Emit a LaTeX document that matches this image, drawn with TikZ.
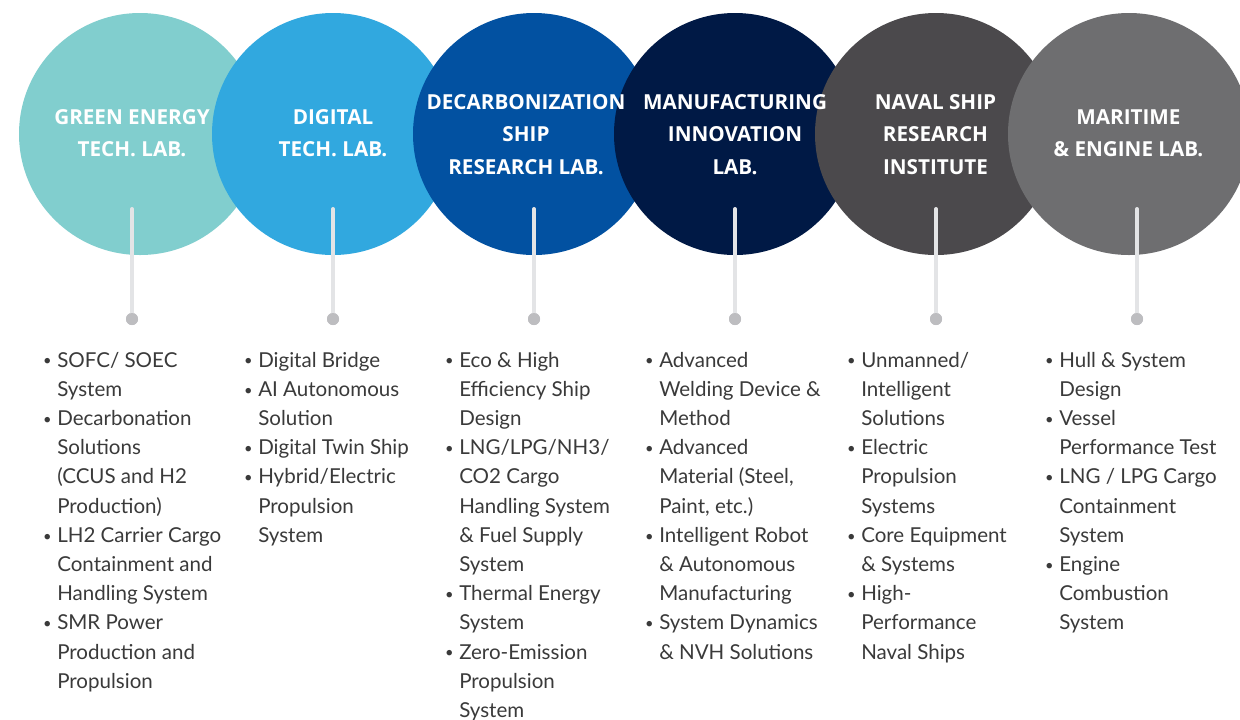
\documentclass[tikz,border=0pt]{standalone}
\usepackage{fontspec}
\setmainfont{Lato}
\newfontfamily\headfont{Open Sans}
\definecolor{cA}{HTML}{81CECE}
\definecolor{cB}{HTML}{31A8DF}
\definecolor{cC}{HTML}{0251A1}
\definecolor{cD}{HTML}{001945}
\definecolor{cE}{HTML}{4B494C}
\definecolor{cF}{HTML}{6E6E70}
\definecolor{stemc}{HTML}{E3E4E6}
\definecolor{dotc}{HTML}{BDBDC0}
\definecolor{bodyc}{HTML}{3A3A3A}
\newcommand{\bl}{\makebox[11.25pt][l]{\hspace{0.6pt}\raisebox{0.8pt}{\fontsize{11pt}{11pt}\selectfont •}}&}
\newcommand{\cl}{&}
\begin{document}
\begin{tikzpicture}[x=0.75pt,y=-0.75pt,
  lab/.style={circle,inner sep=0pt,minimum size=181.5pt,draw=none},
  head/.style={text=white,align=center,inner sep=0pt,font=\headfont\bfseries\fontsize{15.5pt}{24.4pt}\selectfont},
  stem/.style={draw=stemc,line width=3pt,line cap=round},
  dotn/.style={circle,fill=dotc,inner sep=0pt,minimum size=9pt},
  col/.style={anchor=base west,inner sep=0pt,text=bodyc,font=\fontsize{15.4pt}{21.9pt}\selectfont}]
\useasboundingbox (0,0) rectangle (1240,719);
\fill[white] (0,0) rectangle (1240,719);
% circles
\node[lab,fill=cA] (c1) at (140,134) {};
\node[lab,fill=cB] (c2) at (333,134) {};
\node[lab,fill=cC] (c3) at (534,134) {};
\node[lab,fill=cD] (c4) at (735,134) {};
\node[lab,fill=cE] (c5) at (936,134) {};
\node[lab,fill=cF] (c6) at (1129,134) {};
% titles
\node[head] (t1) at (132,133) {GREEN ENERGY\\TECH. LAB.};
\node[head] (t2) at (333,133) {DIGITAL\\TECH. LAB.};
\node[head] (t3) at (526,134.5) {DECARBONIZATION\\SHIP\\RESEARCH LAB.};
\node[head] (t4) at (735,134.5) {MANUFACTURING\\INNOVATION\\LAB.};
\node[head] (t5) at (935.5,134.5) {NAVAL SHIP\\RESEARCH\\INSTITUTE};
\node[head] (t6) at (1128.5,133) {MARITIME\\\& ENGINE LAB.};
% stems
\foreach \i/\x in {1/132,2/333,3/534,4/735,5/936,6/1137}{
  \coordinate (s\i) at (\x,209);
  \node[dotn] (d\i) at (\x,319) {};
  \draw[stem] (s\i) -- (d\i.center);
  \node[dotn] at (d\i) {};
}
% lists
\node[col] (l1) at (42,367) {\begin{tabular}[t]{@{}l@{}l@{}}
\bl SOFC/ SOEC\\ \cl System\\
\bl Decarbonation\\ \cl Solutions\\ \cl (CCUS and H2\\ \cl Production)\\
\bl LH2 Carrier Cargo\\ \cl Containment and\\ \cl Handling System\\
\bl SMR Power\\ \cl Production and\\ \cl Propulsion
\end{tabular}};
\node[col] (l2) at (243,367) {\begin{tabular}[t]{@{}l@{}l@{}}
\bl Digital Bridge\\
\bl AI Autonomous\\ \cl Solution\\
\bl Digital Twin Ship\\
\bl Hybrid/Electric\\ \cl Propulsion\\ \cl System
\end{tabular}};
\node[col] (l3) at (444,367) {\begin{tabular}[t]{@{}l@{}l@{}}
\bl Eco \& High\\ \cl Efficiency Ship\\ \cl Design\\
\bl LNG/LPG/NH3/\\ \cl CO2 Cargo\\ \cl Handling System\\ \cl \& Fuel Supply\\ \cl System\\
\bl Thermal Energy\\ \cl System\\
\bl Zero-Emission\\ \cl Propulsion\\ \cl System
\end{tabular}};
\node[col] (l4) at (644,367) {\begin{tabular}[t]{@{}l@{}l@{}}
\bl Advanced\\ \cl Welding Device \&\\ \cl Method\\
\bl Advanced\\ \cl Material (Steel,\\ \cl Paint, etc.)\\
\bl Intelligent Robot\\ \cl \& Autonomous\\ \cl Manufacturing\\
\bl System Dynamics\\ \cl \& NVH Solutions
\end{tabular}};
\node[col] (l5) at (846,367) {\begin{tabular}[t]{@{}l@{}l@{}}
\bl Unmanned/\\ \cl Intelligent\\ \cl Solutions\\
\bl Electric\\ \cl Propulsion\\ \cl Systems\\
\bl Core Equipment\\ \cl \& Systems\\
\bl High-\\ \cl Performance\\ \cl Naval Ships
\end{tabular}};
\node[col] (l6) at (1044,367) {\begin{tabular}[t]{@{}l@{}l@{}}
\bl Hull \& System\\ \cl Design\\
\bl Vessel\\ \cl Performance Test\\
\bl LNG / LPG Cargo\\ \cl Containment\\ \cl System\\
\bl Engine\\ \cl Combustion\\ \cl System
\end{tabular}};
\end{tikzpicture}
\end{document}
